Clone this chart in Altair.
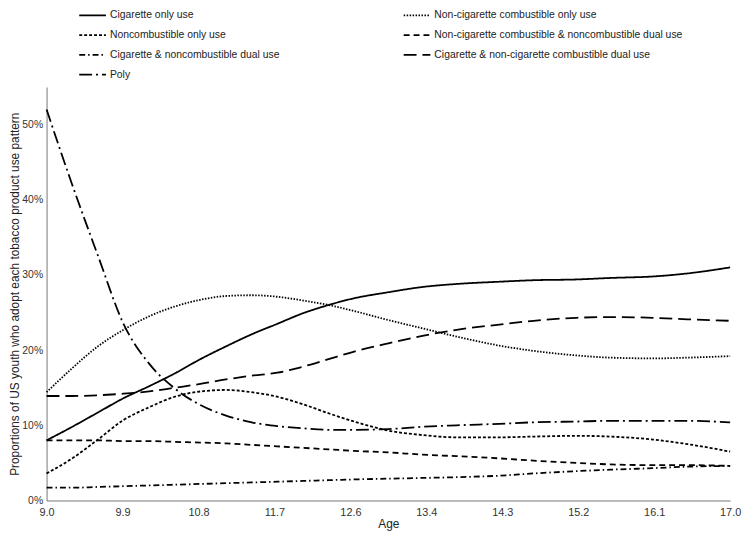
import altair as alt
import pandas as pd

ages = [9.0, 9.3, 9.6, 9.9, 10.2, 10.5, 10.8, 11.1, 11.4, 11.7, 12.0, 12.3,
        12.6, 13.0, 13.4, 13.8, 14.3, 14.7, 15.2, 15.6, 16.1, 16.5, 17.0]

# legend order (filled column by column: left column first, then right column)
series_names = [
    "Cigarette only use",
    "Noncombustible only use",
    "Cigarette & noncombustible dual use",
    "Poly",
    "Non-cigarette combustible only use",
    "Non-cigarette combustible & noncombustible dual use",
    "Cigarette & non-cigarette combustible dual use",
]

cigarette_only = [8.0, 9.8, 11.7, 13.6, 15.2, 16.9, 18.8, 20.5, 22.1, 23.5, 24.9, 26.0,
                  26.9, 27.7, 28.4, 28.8, 29.1, 29.3, 29.4, 29.6, 29.8, 30.2, 31.0]
noncomb_only = [3.6, 5.6, 8.1, 10.7, 12.4, 13.8, 14.5, 14.7, 14.4, 13.8, 12.8, 11.6,
                10.5, 9.3, 8.7, 8.4, 8.4, 8.5, 8.6, 8.5, 8.1, 7.5, 6.5]
cig_noncomb_dual = [1.7, 1.7, 1.8, 1.9, 2.0, 2.1, 2.2, 2.3, 2.4, 2.5, 2.6, 2.7,
                    2.8, 2.9, 3.0, 3.1, 3.3, 3.6, 3.9, 4.1, 4.3, 4.5, 4.6]
poly = [52.0, 42.0, 32.6, 23.5, 18.2, 14.9, 12.7, 11.3, 10.4, 9.9, 9.6, 9.4,
        9.4, 9.5, 9.8, 10.0, 10.2, 10.4, 10.5, 10.6, 10.6, 10.6, 10.4]
noncig_comb_only = [14.4, 17.6, 20.5, 22.7, 24.5, 25.8, 26.7, 27.2, 27.3, 27.1, 26.6, 26.0,
                    25.2, 24.0, 22.9, 21.8, 20.6, 19.9, 19.3, 19.0, 18.9, 19.0, 19.2]
noncig_noncomb_dual = [8.0, 8.0, 8.0, 7.9, 7.9, 7.8, 7.7, 7.6, 7.4, 7.2, 7.0, 6.8,
                       6.6, 6.4, 6.1, 5.9, 5.6, 5.3, 5.0, 4.8, 4.7, 4.7, 4.6]
cig_noncig_dual = [13.9, 13.9, 14.0, 14.2, 14.5, 15.0, 15.5, 16.1, 16.6, 17.0, 17.8, 18.8,
                   19.8, 20.9, 21.9, 22.7, 23.4, 23.9, 24.3, 24.4, 24.3, 24.1, 23.9]

series_values = [cigarette_only, noncomb_only, cig_noncomb_dual, poly,
                 noncig_comb_only, noncig_noncomb_dual, cig_noncig_dual]

dash_patterns = [[1, 0], [3, 2], [6, 3, 1.5, 3], [13, 4, 2, 4],
                 [1.5, 1.5], [6, 4], [13, 6]]

x_ticks = [9.0, 9.889, 10.778, 11.667, 12.556, 13.444, 14.333, 15.222, 16.111, 17.0]
y_ticks = [0, 10, 20, 30, 40, 50]

rows = []
for name, vals in zip(series_names, series_values):
    for a, v in zip(ages, vals):
        rows.append({"Age": a, "Value": v, "Series": name})
df = pd.DataFrame(rows)

FONT = "Liberation Sans, Arial, sans-serif"

chart = alt.Chart(df).mark_line(
    color="black", strokeWidth=1.8, interpolate="monotone", strokeCap="butt"
).encode(
    x=alt.X("Age:Q",
            scale=alt.Scale(domain=[9, 17], nice=False, zero=False),
            axis=alt.Axis(values=x_ticks, format=".1f", title="Age", ticks=False,
                          grid=False, labelPadding=6, titlePadding=1,
                          labelFlush=False)),
    y=alt.Y("Value:Q",
            scale=alt.Scale(domain=[0, 55], nice=False),
            axis=alt.Axis(values=y_ticks, labelExpr="datum.value + '%'",
                          title="Proportions of US youth who adopt each tobacco product use pattern",
                          ticks=False, grid=False, labelPadding=4, labelFontSize=10.5,
                          titleX=-25, titleBaseline="bottom", titleAngle=270,
                          titleFontSize=12)),
    strokeDash=alt.StrokeDash("Series:N",
                              scale=alt.Scale(domain=series_names, range=dash_patterns),
                              legend=alt.Legend(title=None, orient="none", legendX=32, legendY=-87,
                                                columns=2, columnPadding=121, rowPadding=-3,
                                                symbolType="stroke", symbolSize=729,
                                                symbolStrokeWidth=1.8, symbolStrokeColor="black",
                                                labelFontSize=10.5, labelFont=FONT,
                                                labelColor="#222222", labelOffset=3,
                                                labelLimit=400)),
    detail="Series:N",
).properties(
    width=691,
    height=418,
    autosize=alt.AutoSizeParams(type="none"),
    padding={"left": 39, "top": 77, "right": 12, "bottom": 29},
).configure_view(
    stroke=None
).configure_axis(
    domainColor="#777777",
    domainWidth=1,
    labelFont=FONT,
    titleFont=FONT,
    labelFontSize=11,
    titleFontSize=12,
    labelColor="#333333",
    titleColor="#222222",
    titleFontWeight="normal",
)

chart.save("out.html", embed_options={"renderer": "svg", "actions": False})
